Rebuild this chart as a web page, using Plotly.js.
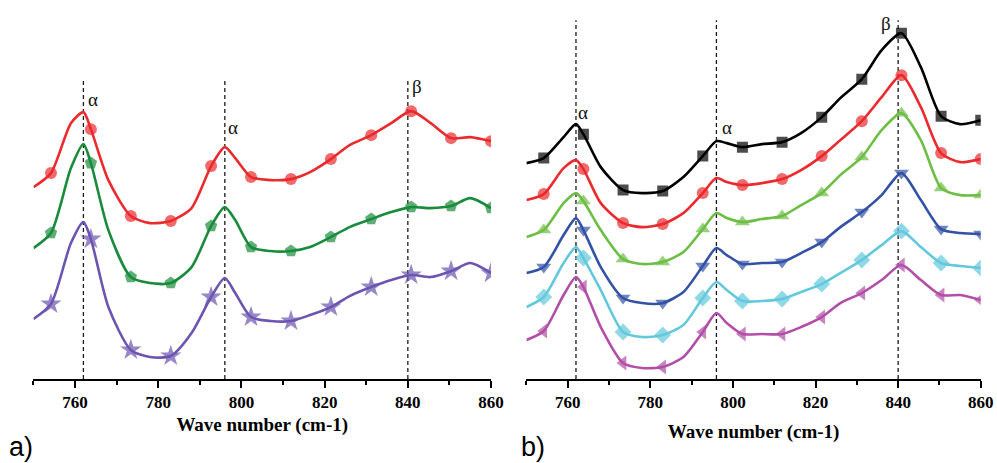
<!DOCTYPE html>
<html><head><meta charset="utf-8">
<script src="https://cdn.plot.ly/plotly-3.0.1.min.js"></script>
<style>html,body{margin:0;padding:0;background:#fff;} #chart{width:997px;height:463px;}</style>
</head><body><div id="chart"></div>
<script>
// ---- data ----
const wavenumbers = [750, 754.2, 759, 762, 763.8, 768, 773.4, 778, 783, 788, 792.7, 796, 798.5, 802.3, 807, 811.9, 816.5, 821.5, 826, 831.2, 836, 840.8, 845.5, 850.4, 855, 860];
const markerWavenumbers = [754.2, 763.8, 773.4, 783, 792.7, 802.3, 811.9, 821.5, 831.2, 840.8, 850.4, 860];
const peakPositions = [762, 796, 840];
const peakLabels = ['α', 'α', 'β'];
const tickValues = [760, 780, 800, 820, 840, 860];
const minorTickValues = [750, 770, 790, 810, 830, 850];
const axisTitleText = 'Wave number (cm-1)';
const panelLabels = ['a)', 'b)'];

// panel a
const aRed    = [1.92, 2.06, 2.56, 2.67, 2.50, 1.99, 1.63, 1.56, 1.58, 1.71, 2.13, 2.32, 2.21, 2.02, 1.99, 2.00, 2.07, 2.20, 2.34, 2.44, 2.56, 2.68, 2.56, 2.41, 2.42, 2.38];
const aGreen  = [1.31, 1.46, 2.11, 2.35, 2.16, 1.49, 1.02, 0.96, 0.96, 1.12, 1.53, 1.72, 1.59, 1.32, 1.28, 1.28, 1.32, 1.42, 1.52, 1.60, 1.67, 1.72, 1.71, 1.73, 1.81, 1.71];
const aPurple = [0.60, 0.75, 1.36, 1.57, 1.40, 0.72, 0.29, 0.22, 0.23, 0.46, 0.82, 1.01, 0.86, 0.62, 0.58, 0.58, 0.64, 0.72, 0.83, 0.92, 0.99, 1.04, 1.02, 1.08, 1.16, 1.06];

// panel b
const bBlack   = [2.16, 2.21, 2.42, 2.55, 2.45, 2.12, 1.89, 1.86, 1.88, 2.02, 2.23, 2.38, 2.36, 2.32, 2.35, 2.37, 2.46, 2.62, 2.81, 3.00, 3.29, 3.46, 3.12, 2.63, 2.55, 2.59];
const bRed     = [1.79, 1.85, 2.11, 2.19, 2.10, 1.76, 1.56, 1.52, 1.55, 1.66, 1.86, 2.01, 1.97, 1.94, 1.96, 2.00, 2.09, 2.23, 2.39, 2.58, 2.82, 3.04, 2.72, 2.26, 2.17, 2.20];
const bGreen   = [1.42, 1.49, 1.76, 1.86, 1.78, 1.49, 1.20, 1.15, 1.17, 1.27, 1.50, 1.66, 1.61, 1.57, 1.60, 1.63, 1.74, 1.86, 2.04, 2.22, 2.49, 2.66, 2.39, 1.91, 1.84, 1.84];
const bBlue    = [1.06, 1.12, 1.44, 1.61, 1.49, 1.12, 0.81, 0.76, 0.76, 0.87, 1.13, 1.31, 1.24, 1.15, 1.16, 1.17, 1.26, 1.37, 1.52, 1.67, 1.84, 2.06, 1.79, 1.50, 1.46, 1.45];
const bCyan    = [0.72, 0.82, 1.16, 1.32, 1.21, 0.89, 0.47, 0.42, 0.44, 0.54, 0.81, 0.97, 0.89, 0.78, 0.78, 0.80, 0.87, 0.95, 1.06, 1.19, 1.34, 1.48, 1.32, 1.16, 1.13, 1.11];
const bMagenta = [0.39, 0.48, 0.84, 1.02, 0.92, 0.52, 0.16, 0.11, 0.12, 0.22, 0.47, 0.66, 0.56, 0.45, 0.45, 0.45, 0.52, 0.62, 0.76, 0.86, 0.99, 1.14, 0.99, 0.84, 0.84, 0.79];

// ---- styling ----
function makeTrace(y, color, symbol, size, xa, ya) {
  const sizes = wavenumbers.map(w => markerWavenumbers.includes(w) ? size : 0);
  return {
    x: wavenumbers, y: y, type: 'scatter', mode: 'lines+markers',
    xaxis: xa, yaxis: ya, showlegend: false, hoverinfo: 'skip',
    line: {color: color, width: 2.6, shape: 'spline', smoothing: 0.7},
    marker: {color: color, symbol: symbol, size: sizes, line: {width: 0}}
  };
}

const traces = [
  makeTrace(aRed, '#ea2a2c', 'circle', 12, 'x', 'y'),
  makeTrace(aGreen, '#1a8b3c', 'pentagon', 13, 'x', 'y'),
  makeTrace(aPurple, '#6c54b0', 'star', 16, 'x', 'y'),
  makeTrace(bBlack, '#000000', 'square', 11, 'x2', 'y2'),
  makeTrace(bRed, '#ea2a2c', 'circle', 12, 'x2', 'y2'),
  makeTrace(bGreen, '#6cbe44', 'triangle-up', 13, 'x2', 'y2'),
  makeTrace(bBlue, '#3352a6', 'triangle-down', 13, 'x2', 'y2'),
  makeTrace(bCyan, '#63c8dc', 'diamond', 13, 'x2', 'y2'),
  makeTrace(bMagenta, '#b24ea7', 'triangle-left', 13, 'x2', 'y2')
];

const serif = 'Liberation Serif, Times New Roman, serif';
function xAxis(domain, anchor, standoff) {
  return {
    domain: domain, anchor: anchor, range: [750, 860], showgrid: false, zeroline: false,
    showline: true, linecolor: '#000', linewidth: 2,
    ticks: 'outside', ticklen: 7, tickwidth: 2, tickcolor: '#000',
    tickmode: 'array', tickvals: tickValues, ticktext: tickValues.map(v => '<b>' + v + '</b>'),
    tickfont: {family: serif, size: 17, color: '#000'},
    minor: {tickvals: minorTickValues, ticks: 'outside', ticklen: 4, tickwidth: 2, tickcolor: '#000'},
    title: {text: '<b>' + axisTitleText + '</b>', font: {family: serif, size: 19, color: '#000'}, standoff: standoff},
    fixedrange: true
  };
}
function yAxis(anchor) {
  return {domain: [0.1814, 0.978], range: [0, 3.69], visible: false, anchor: anchor, fixedrange: true};
}

const dashTops = [2.99, 3.59];
const shapes = [];
peakPositions.forEach(p => {
  shapes.push({type: 'line', xref: 'x', yref: 'y', x0: p, x1: p, y0: 0, y1: dashTops[0], line: {color: '#1a1a1a', width: 1.3, dash: '4px,3px'}, layer: 'below'});
  shapes.push({type: 'line', xref: 'x2', yref: 'y2', x0: p, x1: p, y0: 0, y1: dashTops[1], line: {color: '#1a1a1a', width: 1.3, dash: '4px,3px'}, layer: 'below'});
});

const greekFont = {family: serif, size: 19, color: '#111'};
const labelPosA = [[764.4, 2.80], [798.0, 2.52], [842.3, 2.93]];
const labelPosB = [[763.6, 2.67], [798.5, 2.52], [837.1, 3.56]];
const annotations = [];
peakLabels.forEach((t, i) => {
  annotations.push({text: t, xref: 'x', yref: 'y', x: labelPosA[i][0], y: labelPosA[i][1], showarrow: false, xanchor: 'center', yanchor: 'middle', font: greekFont});
  annotations.push({text: t, xref: 'x2', yref: 'y2', x: labelPosB[i][0], y: labelPosB[i][1], showarrow: false, xanchor: 'center', yanchor: 'middle', font: greekFont});
});
const panelFont = {family: 'Liberation Sans, Arial, sans-serif', size: 27, color: '#000'};
annotations.push({text: panelLabels[0], xref: 'paper', yref: 'paper', x: 0.008, y: 0.0, xanchor: 'left', yanchor: 'bottom', showarrow: false, font: panelFont, borderpad: 0});
annotations.push({text: panelLabels[1], xref: 'paper', yref: 'paper', x: 0.522, y: 0.0, xanchor: 'left', yanchor: 'bottom', showarrow: false, font: panelFont, borderpad: 0});

const layout = {
  width: 997, height: 463,
  margin: {l: 0, r: 0, t: 0, b: 0},
  font: {family: serif, size: 17, color: '#000'},
  paper_bgcolor: '#fff', plot_bgcolor: 'rgba(0,0,0,0)',
  xaxis: xAxis([0.0336, 0.4925], 'y', 6),
  yaxis: yAxis('x'),
  xaxis2: xAxis([0.528, 0.9837], 'y2', 13),
  yaxis2: yAxis('x2'),
  shapes: shapes,
  annotations: annotations
};

Plotly.newPlot('chart', traces, layout, {staticPlot: true, displayModeBar: false});
</script>
</body></html>
